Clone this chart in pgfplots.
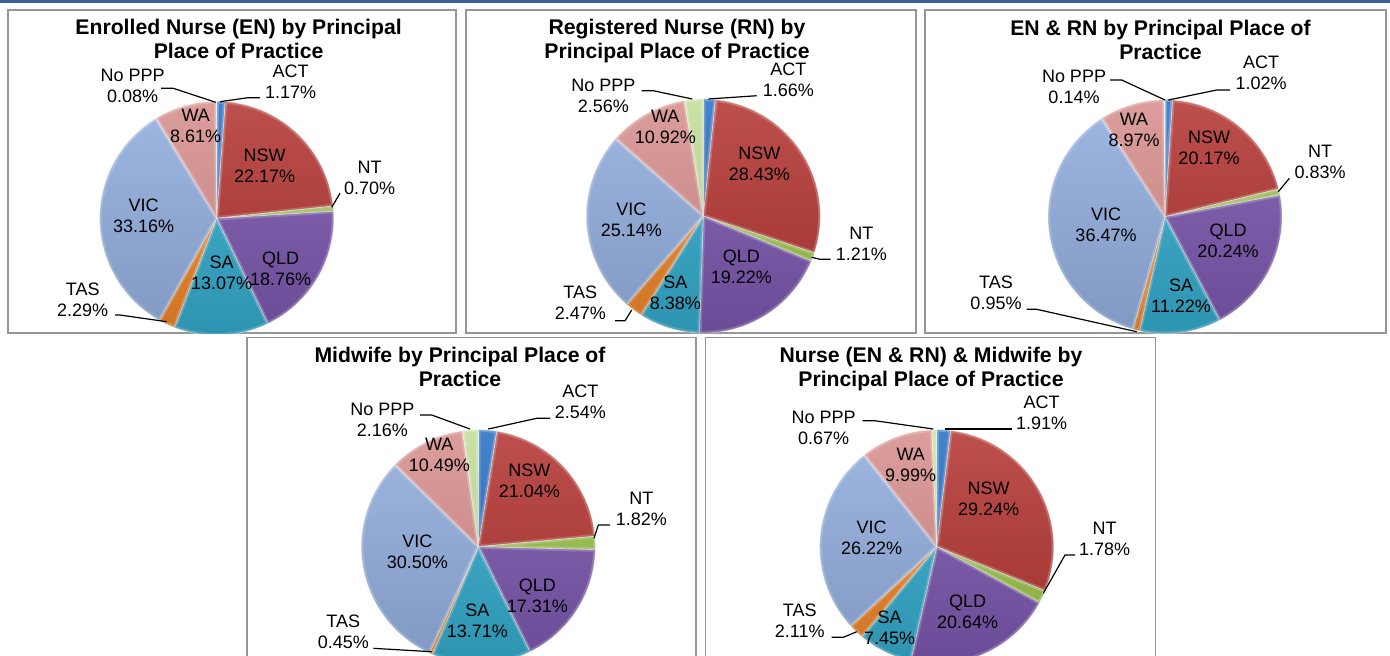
\documentclass[border=0pt]{standalone}
\usepackage{pgfplots}
\usepackage{pgfplotstable}
\pgfplotsset{compat=1.18}
\usepackage{fontspec}
\setmainfont{Liberation Sans}

\definecolor{pc0}{HTML}{2C72C6}
\definecolor{pc1}{HTML}{B43834}
\definecolor{pc2}{HTML}{9AC24A}
\definecolor{pc3}{HTML}{7A56AC}
\definecolor{pc4}{HTML}{33A9CA}
\definecolor{pc5}{HTML}{EC842A}
\definecolor{pc6}{HTML}{92AEDE}
\definecolor{pc7}{HTML}{D8918F}
\definecolor{pc8}{HTML}{C4DE9A}
\definecolor{band}{HTML}{3B5E96}
\definecolor{boxc}{HTML}{969696}

% columns: name, share (%), label offset x, label offset y (px from centre)
\pgfplotstableread[col sep=comma]{
name,v,lx,ly
ACT,1.17,74,137
NSW,22.17,48,53
NT,0.70,153,40
QLD,18.76,64,-50
SA,13.07,5,-54
TAS,2.29,-134,-81
VIC,33.16,-73,3
WA,8.61,-21,92
No PPP,0.08,-84,132
}\tEN
\pgfplotstableread[col sep=comma]{
name,v,lx,ly
ACT,1.66,85,136.5
NSW,28.43,56,52
NT,1.21,158,-28
QLD,19.22,38,-51
SA,8.38,-28,-77
TAS,2.47,-123,-87
VIC,25.14,-72,-4
WA,10.92,-38,89
No PPP,2.56,-100,120
}\tRN
\pgfplotstableread[col sep=comma]{
name,v,lx,ly
ACT,1.02,96,143.7
NSW,20.17,44,69
NT,0.83,155,55
QLD,20.24,63,-24.5
SA,11.22,16,-79
TAS,0.95,-169,-76
VIC,36.47,-59,-8
WA,8.97,-31,87
No PPP,0.14,-91,130
}\tENRN
\pgfplotstableread[col sep=comma]{
name,v,lx,ly
ACT,2.54,102,144.5
NSW,21.04,51,65.5
NT,1.82,163,37.5
QLD,17.31,59,-49
SA,13.71,-1,-74
TAS,0.45,-135,-85
VIC,30.50,-61,-5
WA,10.49,-39,92
No PPP,2.16,-96,126.5
}\tMW
\pgfplotstableread[col sep=comma]{
name,v,lx,ly
ACT,1.91,105,134
NSW,29.24,52,48
NT,1.78,168,8
QLD,20.64,31,-65
SA,7.45,-47,-81
TAS,2.11,-137,-74
VIC,26.22,-65,8.5
WA,9.99,-26,81.5
No PPP,0.67,-113,119
}\tALL

\newcommand{\piechart}[1]{%
  \pgfplotstablegetrowsof{#1}%
  \pgfmathtruncatemacro{\nrows}{\pgfplotsretval-1}%
  \def\cum{0}%
  \pgfplotsforeachungrouped \i in {0,...,\nrows}{%
    \pgfplotstablegetelem{\i}{v}\of{#1}\let\val\pgfplotsretval
    \pgfmathsetmacro{\sa}{90-3.6*\cum}%
    \pgfmathsetmacro{\cum}{\cum+\val}%
    \pgfmathsetmacro{\ea}{90-3.6*\cum}%
    \edef\temp{\noexpand\pgfplotsextra{%
      \noexpand\fill[pc\i] (axis cs:0,0) -- ++(\sa:58.5pt) arc[start angle=\sa, end angle=\ea, radius=58.5pt] -- cycle;
      \noexpand\begin{scope}
      \noexpand\clip (axis cs:0,0) -- ++(\sa:58.5pt) arc[start angle=\sa, end angle=\ea, radius=58.5pt] -- cycle;
      \noexpand\draw[white, opacity=0.22, line width=2.2pt, line join=round] (axis cs:0,0) -- ++(\sa:58.5pt) arc[start angle=\sa, end angle=\ea, radius=58.5pt] -- cycle;
      \noexpand\end{scope}
      \noexpand\draw[white, opacity=0.55, line width=0.35pt, line join=round] (axis cs:0,0) -- ++(\sa:58.5pt) arc[start angle=\sa, end angle=\ea, radius=58.5pt] -- cycle;
    }}%
    \temp
  }%
  \pgfplotsextra{\shade[top color=white, bottom color=black, opacity=0.12] (axis cs:0,0) circle[radius=58.5pt];}%
  \pgfplotsforeachungrouped \i in {0,...,\nrows}{%
    \pgfplotstablegetelem{\i}{v}\of{#1}\let\val\pgfplotsretval
    \pgfplotstablegetelem{\i}{name}\of{#1}\let\nm\pgfplotsretval
    \pgfplotstablegetelem{\i}{lx}\of{#1}\let\lx\pgfplotsretval
    \pgfplotstablegetelem{\i}{ly}\of{#1}\let\ly\pgfplotsretval
    \edef\temp{\noexpand\node[lbl] at (axis cs:\lx,\ly) {\nm\noexpand\\\val\noexpand\%};}%
    \temp
  }%
}

\pgfplotsset{
  pieaxis/.style={width=117pt, height=117pt, scale only axis,
    xmin=-117, xmax=117, ymin=-117, ymax=117, hide axis, clip=false, anchor=center},
}
\tikzset{
  lbl/.style={align=center, inner sep=0pt, font=\fontsize{9}{10.5}\selectfont},
  ttl/.style={anchor=base, inner sep=0pt, font=\fontsize{10.6}{12}\selectfont\bfseries},
  leader/.style={black, line width=0.6pt},
  box/.style={draw=boxc, line width=0.8pt},
}

\begin{document}
\begin{tikzpicture}[x=0.5pt, y=-0.5pt]
\useasboundingbox (0,0) rectangle (1390,655);
\fill[band] (0,0) rectangle (1390,2.5);

% boxes
\draw[box] (8,10) rectangle (456,333);
\draw[box] (466,10) rectangle (916,333);
\draw[box] (925,10) rectangle (1386,333);
\draw[box] (247,337.5) rectangle (696,700);
\draw[box] (705.5,337.5) rectangle (1155.5,700);

% titles
\node[ttl] at (238.6,34) {Enrolled Nurse (EN) by Principal};
\node[ttl] at (238.6,58) {Place of Practice};
\node[ttl] at (677,34.5) {Registered Nurse (RN) by};
\node[ttl] at (677,58.5) {Principal Place of Practice};
\node[ttl] at (1160.5,35) {EN \& RN by Principal Place of};
\node[ttl] at (1160.5,59) {Practice};
\node[ttl] at (460,362.3) {Midwife by Principal Place of};
\node[ttl] at (460,386) {Practice};
\node[ttl] at (931,362.5) {Nurse (EN \& RN) \& Midwife by};
\node[ttl] at (931,386.3) {Principal Place of Practice};

% pie 1
\begin{scope}
\clip (8,10) rectangle (456,333);
\begin{axis}[pieaxis, at={(108.35pt,-109.15pt)}]
\piechart{\tEN}
\draw[leader] (axis cs:3.3,116.6) -- (axis cs:31.3,120.6) -- (axis cs:43.3,120.6);
\draw[leader] (axis cs:115,11) -- (axis cs:123.3,25);
\draw[leader] (axis cs:-101.7,-96.7) -- (axis cs:-96.7,-96.7) -- (axis cs:-50,-103.4);
\draw[leader] (axis cs:-55.7,130) -- (axis cs:-43.4,130) -- (axis cs:-1,116);
\end{axis}
\end{scope}

% pie 2
\begin{scope}
\clip (466,10) rectangle (916,333);
\begin{axis}[pieaxis, at={(351.65pt,-108pt)}]
\piechart{\tRN}
\draw[leader] (axis cs:5,117) -- (axis cs:53.4,120.3);
\draw[leader] (axis cs:108.4,-41.3) -- (axis cs:116.7,-43.3) -- (axis cs:127.4,-43.3);
\draw[leader] (axis cs:-88.3,-104.7) -- (axis cs:-78.3,-104.7) -- (axis cs:-71.6,-94);
\draw[leader] (axis cs:-61.6,125.3) -- (axis cs:-50,125.3) -- (axis cs:-11,117);
\end{axis}
\end{scope}

% pie 3
\begin{scope}
\clip (925,10) rectangle (1386,333);
\begin{axis}[pieaxis, at={(582.5pt,-108.35pt)}]
\piechart{\tENRN}
\draw[leader] (axis cs:3.3,116.7) -- (axis cs:51.7,126.7) -- (axis cs:65,126.7);
\draw[leader] (axis cs:113.3,25) -- (axis cs:124.3,38.4);
\draw[leader] (axis cs:-138.3,-92.6) -- (axis cs:-128.3,-92.6) -- (axis cs:-28.3,-115);
\draw[leader] (axis cs:-55,136.7) -- (axis cs:-43.3,136.7) -- (axis cs:0,116.7);
\end{axis}
\end{scope}

% pie 4
\begin{scope}
\clip (247,337.5) rectangle (696,700);
\begin{axis}[pieaxis, at={(239.15pt,-273.35pt)}]
\piechart{\tMW}
\draw[leader] (axis cs:10,117.7) -- (axis cs:58.4,128.4) -- (axis cs:71.7,128.4);
\draw[leader] (axis cs:115.7,8.4) -- (axis cs:120,21.7) -- (axis cs:131.7,21.7);
\draw[leader] (axis cs:-105,-101.6) -- (axis cs:-46.6,-105);
\draw[leader] (axis cs:-58.3,131.7) -- (axis cs:-46.6,131.7) -- (axis cs:-8.3,117.7);
\end{axis}
\end{scope}

% pie 5
\begin{scope}
\clip (705.5,337.5) rectangle (1155.5,700);
\begin{axis}[pieaxis, at={(468.35pt,-273.35pt)}]
\piechart{\tALL}
\draw[leader] (axis cs:8.3,117.7) -- (axis cs:75,117.7);
\draw[leader] (axis cs:106.6,-46.6) -- (axis cs:128.3,-8.3) -- (axis cs:138.3,-8.3);
\draw[leader] (axis cs:-105,-90.6) -- (axis cs:-93.4,-90.6) -- (axis cs:-80,-85);
\draw[leader] (axis cs:-74,126) -- (axis cs:-62,126) -- (axis cs:-3.4,117.7);
\end{axis}
\end{scope}
\end{tikzpicture}
\end{document}
